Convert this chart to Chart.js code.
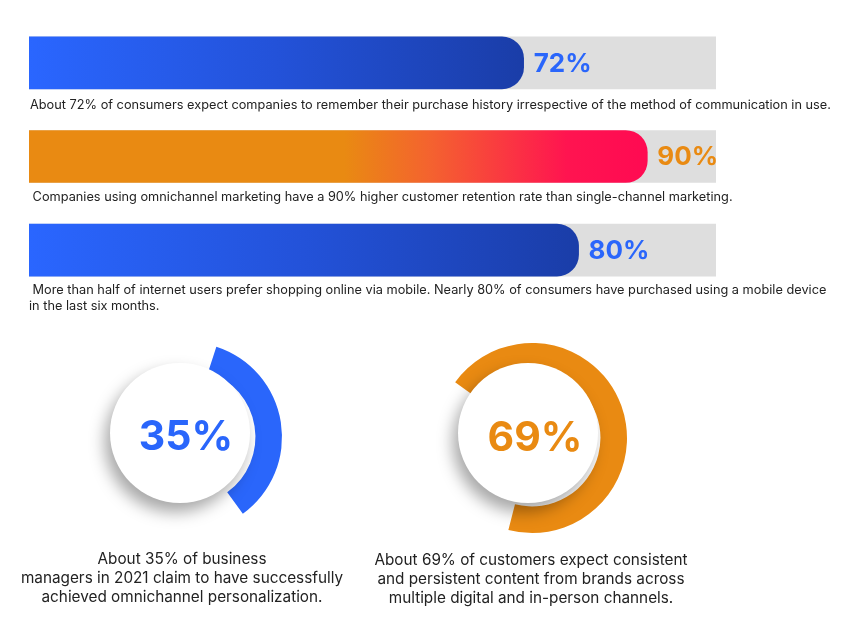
<!DOCTYPE html>
<html>
<head>
<meta charset="utf-8">
<script src="https://cdn.jsdelivr.net/npm/chart.js@4/dist/chart.umd.min.js"></script>
<style>
  body { margin: 0; background: #fff; font-family: Inter, "Noto Sans", sans-serif; color: #222; }
  #page { position: relative; width: 857px; height: 631px; overflow: hidden; }
  canvas { position: absolute; }
  .cap { position: absolute; font-size: 12.75px; line-height: 16px; white-space: pre; }
  .dcap { position: absolute; width: 400px; text-align: center; font-size: 15.3px; line-height: 19px; }
</style>
</head>
<body>
<div id="page">
  <canvas id="bars" width="687" height="281" style="left:29px;top:16px"></canvas>
  <div class="cap" id="cap0" style="left:30px;top:97px"></div>
  <div class="cap" id="cap1" style="left:29px;top:189px"></div>
  <div class="cap" id="cap2" style="left:29px;top:282px"></div>

  <canvas id="donut1" width="230" height="230" style="left:72px;top:322px"></canvas>
  <canvas id="donut2" width="230" height="230" style="left:417px;top:323px"></canvas>
  <div class="dcap" id="dcap0" style="left:-18px;top:549px"></div>
  <div class="dcap" id="dcap1" style="left:331px;top:550px"></div>
</div>
<script>
// progress bars
const barLabels = ['Purchase history', 'Omnichannel retention', 'Mobile purchases'];
const barValues = [72, 90, 80];
const trackValues = [100, 100, 100];
const barCaptions = [
  'About 72% of consumers expect companies to remember their purchase history irrespective of the method of communication in use.',
  ' Companies using omnichannel marketing have a 90% higher customer retention rate than single-channel marketing.',
  ' More than half of internet users prefer shopping online via mobile. Nearly 80% of consumers have purchased using a mobile device\nin the last six months.'
];

// doughnuts
const donutValues = [35, 69];
const donutCaptions = [
  'About 35% of business<br>managers in 2021 claim to have successfully<br>achieved omnichannel personalization.',
  'About 69% of customers expect consistent<br>and persistent content from brands across<br>multiple digital and in-person channels.'
];

const BLUE = '#2a66fb';
const ORANGE = '#e98a12';
const labelColors = [BLUE, ORANGE, BLUE];
const blueStops = [[0, '#2a66ff'], [0.5, '#2352d9'], [1, '#1a3da8']];
const barStops = [
  blueStops,
  [[0, ORANGE], [0.51, ORANGE], [0.65, '#f4622f'], [0.87, '#ff1450'], [1, '#ff0a52']],
  blueStops
];

barCaptions.forEach((t, i) => { document.getElementById('cap' + i).textContent = t; });
donutCaptions.forEach((t, i) => { document.getElementById('dcap' + i).innerHTML = t; });

// gradient that runs from the left edge to the end of each bar
function barFill(ctx) {
  const chart = ctx.chart;
  const area = chart.chartArea;
  const stops = barStops[ctx.dataIndex];
  if (!area || !chart.scales.x) return stops[0][1];
  const end = chart.scales.x.getPixelForValue(barValues[ctx.dataIndex]);
  const g = chart.ctx.createLinearGradient(area.left, 0, end, 0);
  stops.forEach(s => g.addColorStop(s[0], s[1]));
  return g;
}

const barValueLabels = {
  id: 'barValueLabels',
  afterDatasetsDraw(chart) {
    const c = chart.ctx;
    c.save();
    c.font = 'bold 26px Inter';
    c.textBaseline = 'middle';
    chart.getDatasetMeta(0).data.forEach((bar, i) => {
      c.fillStyle = labelColors[i];
      c.fillText(barValues[i] + '%', bar.x + 10, bar.y + 1);
    });
    c.restore();
  }
};

// white disc with drop shadow and the percentage in the middle
const centerDisc = {
  id: 'centerDisc',
  afterDatasetsDraw(chart, args, opts) {
    const arc = chart.getDatasetMeta(0).data[0];
    const c = chart.ctx;
    c.save();
    c.shadowColor = 'rgba(0,0,0,0.35)';
    c.shadowBlur = 16;
    c.shadowOffsetX = -5;
    c.shadowOffsetY = 9;
    c.beginPath();
    c.arc(arc.x + opts.shift[0], arc.y + opts.shift[1], 70, 0, Math.PI * 2);
    c.fillStyle = '#fff';
    c.fill();
    c.shadowColor = 'transparent';
    c.font = 'bold 41px Inter';
    c.textAlign = 'center';
    c.textBaseline = 'alphabetic';
    c.fillStyle = opts.color;
    c.fillText(chart.data.datasets[0].data[0] + '%', arc.x + opts.textDx, arc.y + 13);
    c.restore();
  }
};

function drawBars() {
  new Chart(document.getElementById('bars'), {
    type: 'bar',
    data: {
      labels: barLabels,
      datasets: [
        {
          data: barValues,
          backgroundColor: barFill,
          borderRadius: { topLeft: 0, bottomLeft: 0, topRight: 22, bottomRight: 22 },
          borderSkipped: false,
          barThickness: 52,
          grouped: false
        },
        {
          data: trackValues,
          backgroundColor: '#dedede',
          borderRadius: 0,
          barThickness: 52,
          grouped: false
        }
      ]
    },
    options: {
      indexAxis: 'y',
      responsive: false,
      animation: false,
      events: [],
      layout: { padding: 0 },
      scales: {
        x: { min: 0, max: 100, display: false },
        y: { display: false }
      },
      plugins: { legend: { display: false }, tooltip: { enabled: false } }
    },
    plugins: [barValueLabels]
  });
}

function drawDonut(id, value, color, rotation, shift, textDx) {
  new Chart(document.getElementById(id), {
    type: 'doughnut',
    data: {
      datasets: [{
        data: [value, 100 - value],
        backgroundColor: [color, 'rgba(0,0,0,0)'],
        borderWidth: 0
      }]
    },
    options: {
      responsive: false,
      animation: false,
      events: [],
      rotation: rotation,
      cutout: '72%',
      layout: { padding: 20 },
      plugins: {
        legend: { display: false },
        tooltip: { enabled: false },
        centerDisc: { color: color, shift: shift, textDx: textDx }
      }
    },
    plugins: [centerDisc]
  });
}

document.fonts.load('bold 26px Inter').then(() => {
  drawBars();
  drawDonut('donut1', donutValues[0], BLUE, 18, [-7, -4], -1);
  drawDonut('donut2', donutValues[1], ORANGE, -54, [-4, -5], 3);
});
</script>
</body>
</html>
